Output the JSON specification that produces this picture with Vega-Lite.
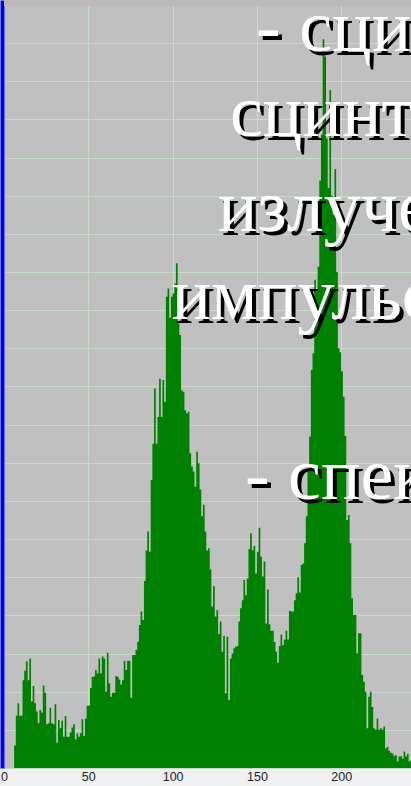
{
  "$schema": "https://vega.github.io/schema/vega-lite/v6.json",
  "width": 407,
  "height": 768,
  "autosize": {"type": "none"},
  "padding": {"left": 4, "top": 0, "right": 0, "bottom": 18},
  "background": "#f0f0f0",
  "config": {
    "view": {"fill": "#c0c0c0", "stroke": null},
    "axis": {"gridColor": "#c9dcc9", "gridWidth": 1, "gridOpacity": 1}
  },
  "data": {"values": [
    {"ch":0,"n":0},{"ch":1,"n":0},{"ch":2,"n":0},{"ch":3,"n":0},{"ch":4,"n":0},{"ch":5,"n":0},{"ch":6,"n":0.59},{"ch":7,"n":1.37},{"ch":8,"n":1.7},{"ch":9,"n":1.37},
    {"ch":10,"n":1.37},{"ch":11,"n":2.3},{"ch":12,"n":2.55},{"ch":13,"n":2.8},{"ch":14,"n":2.3},{"ch":15,"n":2.87},{"ch":16,"n":1.74},{"ch":17,"n":2.15},{"ch":18,"n":1.7},{"ch":19,"n":1.48},
    {"ch":20,"n":1.17},{"ch":21,"n":1.52},{"ch":22,"n":1.45},{"ch":23,"n":2.16},{"ch":24,"n":1.97},{"ch":25,"n":1.15},{"ch":26,"n":1.17},{"ch":27,"n":1.58},{"ch":28,"n":1.17},{"ch":29,"n":1.15},
    {"ch":30,"n":1.67},{"ch":31,"n":0.66},{"ch":32,"n":1.26},{"ch":33,"n":1.04},{"ch":34,"n":1.24},{"ch":35,"n":0.82},{"ch":36,"n":1.36},{"ch":37,"n":0.82},{"ch":38,"n":0.82},{"ch":39,"n":0.93},
    {"ch":40,"n":1.06},{"ch":41,"n":1.15},{"ch":42,"n":0.75},{"ch":43,"n":0.91},{"ch":44,"n":0.82},{"ch":45,"n":0.91},{"ch":46,"n":1.28},{"ch":47,"n":0.84},{"ch":48,"n":1.3},{"ch":49,"n":1.63},
    {"ch":50,"n":1.63},{"ch":51,"n":2.1},{"ch":52,"n":2.39},{"ch":53,"n":2.4},{"ch":54,"n":2.57},{"ch":55,"n":2.48},{"ch":56,"n":2.87},{"ch":57,"n":2.48},{"ch":58,"n":2.92},{"ch":59,"n":2.87},
    {"ch":60,"n":2.0},{"ch":61,"n":3.02},{"ch":62,"n":2.22},{"ch":63,"n":1.87},{"ch":64,"n":1.97},{"ch":65,"n":1.97},{"ch":66,"n":2.41},{"ch":67,"n":2.39},{"ch":68,"n":2.32},{"ch":69,"n":2.18},
    {"ch":70,"n":2.3},{"ch":71,"n":2.81},{"ch":72,"n":2.57},{"ch":73,"n":2.81},{"ch":74,"n":2.81},{"ch":75,"n":1.84},{"ch":76,"n":2.96},{"ch":77,"n":2.96},{"ch":78,"n":3.09},{"ch":79,"n":3.31},
    {"ch":80,"n":3.75},{"ch":81,"n":4.1},{"ch":82,"n":3.88},{"ch":83,"n":4.9},{"ch":84,"n":5.7},{"ch":85,"n":6.2},{"ch":86,"n":5.67},{"ch":87,"n":7.55},{"ch":88,"n":8.5},{"ch":89,"n":9.95},
    {"ch":90,"n":8.5},{"ch":91,"n":9.2},{"ch":92,"n":10.2},{"ch":93,"n":9.2},{"ch":94,"n":10.17},{"ch":95,"n":9.6},{"ch":96,"n":12.35},{"ch":97,"n":12.57},{"ch":98,"n":11.8},{"ch":99,"n":12.35},
    {"ch":100,"n":12.44},{"ch":101,"n":12.7},{"ch":102,"n":13.23},{"ch":103,"n":11.66},{"ch":104,"n":11.35},{"ch":105,"n":9.9},{"ch":106,"n":9.86},{"ch":107,"n":9.38},{"ch":108,"n":9.3},{"ch":109,"n":9.34},
    {"ch":110,"n":8.25},{"ch":111,"n":7.9},{"ch":112,"n":7.77},{"ch":113,"n":7.37},{"ch":114,"n":8.29},{"ch":115,"n":7.99},{"ch":116,"n":7.3},{"ch":117,"n":6.6},{"ch":118,"n":6.9},{"ch":119,"n":6.2},
    {"ch":120,"n":5.7},{"ch":121,"n":5.76},{"ch":122,"n":5.2},{"ch":123,"n":4.23},{"ch":124,"n":4.77},{"ch":125,"n":3.97},{"ch":126,"n":4.14},{"ch":127,"n":3.51},{"ch":128,"n":3.84},{"ch":129,"n":3.05},
    {"ch":130,"n":3.46},{"ch":131,"n":1.96},{"ch":132,"n":3.44},{"ch":133,"n":1.78},{"ch":134,"n":2.87},{"ch":135,"n":3.0},{"ch":136,"n":3.14},{"ch":137,"n":3.18},{"ch":138,"n":3.2},{"ch":139,"n":3.84},
    {"ch":140,"n":4.19},{"ch":141,"n":4.4},{"ch":142,"n":4.93},{"ch":143,"n":4.53},{"ch":144,"n":4.97},{"ch":145,"n":5.74},{"ch":146,"n":6.15},{"ch":147,"n":5.71},{"ch":148,"n":5.82},{"ch":149,"n":5.1},
    {"ch":150,"n":5.67},{"ch":151,"n":6.3},{"ch":152,"n":5.54},{"ch":153,"n":5.02},{"ch":154,"n":5.41},{"ch":155,"n":3.79},{"ch":156,"n":4.68},{"ch":157,"n":3.77},{"ch":158,"n":3.6},{"ch":159,"n":3.6},
    {"ch":160,"n":3.3},{"ch":161,"n":3.05},{"ch":162,"n":2.76},{"ch":163,"n":3.2},{"ch":164,"n":3.5},{"ch":165,"n":3.22},{"ch":166,"n":3.36},{"ch":167,"n":3.6},{"ch":168,"n":3.37},{"ch":169,"n":4.12},
    {"ch":170,"n":4.1},{"ch":171,"n":4.1},{"ch":172,"n":4.4},{"ch":173,"n":4.58},{"ch":174,"n":5.0},{"ch":175,"n":4.6},{"ch":176,"n":5.32},{"ch":177,"n":5.36},{"ch":178,"n":5.89},{"ch":179,"n":6.6},
    {"ch":180,"n":7.81},{"ch":181,"n":8.69},{"ch":182,"n":10.43},{"ch":183,"n":10.87},{"ch":184,"n":12.8},{"ch":185,"n":12.5},{"ch":186,"n":13.14},{"ch":187,"n":15.4},{"ch":188,"n":16.6},{"ch":189,"n":19.1},
    {"ch":190,"n":18.65},{"ch":191,"n":16.5},{"ch":192,"n":15.2},{"ch":193,"n":17.77},{"ch":194,"n":15.0},{"ch":195,"n":14.5},{"ch":196,"n":15.7},{"ch":197,"n":13.0},{"ch":198,"n":11.0},{"ch":199,"n":10.9},
    {"ch":200,"n":10.4},{"ch":201,"n":9.73},{"ch":202,"n":8.7},{"ch":203,"n":6.5},{"ch":204,"n":6.63},{"ch":205,"n":5.89},{"ch":206,"n":4.45},{"ch":207,"n":4.01},{"ch":208,"n":4.01},{"ch":209,"n":3.0},
    {"ch":210,"n":3.53},{"ch":211,"n":3.53},{"ch":212,"n":2.44},{"ch":213,"n":2.26},{"ch":214,"n":2.0},{"ch":215,"n":1.04},{"ch":216,"n":1.87},{"ch":217,"n":2.0},{"ch":218,"n":1.6},{"ch":219,"n":1.04},
    {"ch":220,"n":1.0},{"ch":221,"n":1.3},{"ch":222,"n":1.0},{"ch":223,"n":1.04},{"ch":224,"n":1.0},{"ch":225,"n":1.09},{"ch":226,"n":0.52},{"ch":227,"n":0.56},{"ch":228,"n":0.45},{"ch":229,"n":0.4},
    {"ch":230,"n":0.38},{"ch":231,"n":0.31},{"ch":232,"n":0.34},{"ch":233,"n":0.17},{"ch":234,"n":0.3},{"ch":235,"n":0.31},{"ch":236,"n":0.25},{"ch":237,"n":0.43},{"ch":238,"n":0.3},{"ch":239,"n":0.37},
    {"ch":240,"n":0.17},{"ch":241,"n":0.2},{"ch":242,"n":0.2}
  ]},
  "layer": [
    {
      "mark": {"type": "area", "interpolate": "step-after", "color": "#008000", "clip": true},
      "encoding": {
        "x": {"field": "ch", "type": "quantitative", "title": null,
          "scale": {"domain": [0, 241.4], "nice": false, "zero": false},
          "axis": {"values": [0, 50, 100, 150, 200], "tickCount": 30, "grid": true, "ticks": false, "domain": false,
            "labelFont": "Liberation Sans", "labelFontSize": 12.5, "labelColor": "#222222", "labelPadding": 2, "labelFlush": false}},
        "y": {"field": "n", "type": "quantitative", "title": null,
          "scale": {"domain": [0, 20.13], "nice": false},
          "axis": {"values": [0,1,2,3,4,5,6,7,8,9,10,11,12,13,14,15,16,17,18,19,20], "tickCount": 40, "grid": true, "ticks": false, "labels": false,
            "domain": true, "domainColor": "#0000ff", "domainWidth": 4, "offset": 2}}
      }
    },
    {
      "data": {"values": [{}]},
      "mark": {"type": "rect", "color": "#bdb9b9", "clip": true},
      "encoding": {"y": {"datum": 19.97, "type": "quantitative"}, "y2": {"datum": 20.3}}
    },
    {
      "data": {"values": [{"t": "- сцинтилляционный"}]},
      "encoding": {"x": {"datum": 149.5, "type": "quantitative"}, "y": {"datum": 18.8, "type": "quantitative"}, "text": {"field": "t"}},
      "layer": [
        {"mark": {"type": "text", "font": "Liberation Serif", "fontSize": 74, "align": "left", "baseline": "alphabetic", "color": "#000000", "dx": 4, "dy": 4}},
        {"mark": {"type": "text", "font": "Liberation Serif", "fontSize": 74, "align": "left", "baseline": "alphabetic", "color": "#ffffff"}}
      ]
    },
    {
      "data": {"values": [{"t": "сцинтилляторов"}]},
      "encoding": {"x": {"datum": 134.0, "type": "quantitative"}, "y": {"datum": 16.56, "type": "quantitative"}, "text": {"field": "t"}},
      "layer": [
        {"mark": {"type": "text", "font": "Liberation Serif", "fontSize": 74, "align": "left", "baseline": "alphabetic", "color": "#000000", "dx": 4, "dy": 4}},
        {"mark": {"type": "text", "font": "Liberation Serif", "fontSize": 74, "align": "left", "baseline": "alphabetic", "color": "#ffffff"}}
      ]
    },
    {
      "data": {"values": [{"t": "излучение"}]},
      "encoding": {"x": {"datum": 126.9, "type": "quantitative"}, "y": {"datum": 14.08, "type": "quantitative"}, "text": {"field": "t"}},
      "layer": [
        {"mark": {"type": "text", "font": "Liberation Serif", "fontSize": 74, "align": "left", "baseline": "alphabetic", "color": "#000000", "dx": 4, "dy": 4}},
        {"mark": {"type": "text", "font": "Liberation Serif", "fontSize": 74, "align": "left", "baseline": "alphabetic", "color": "#ffffff"}}
      ]
    },
    {
      "data": {"values": [{"t": "импульсов"}]},
      "encoding": {"x": {"datum": 99.3, "type": "quantitative"}, "y": {"datum": 11.76, "type": "quantitative"}, "text": {"field": "t"}},
      "layer": [
        {"mark": {"type": "text", "font": "Liberation Serif", "fontSize": 74, "align": "left", "baseline": "alphabetic", "color": "#000000", "dx": 4, "dy": 4}},
        {"mark": {"type": "text", "font": "Liberation Serif", "fontSize": 74, "align": "left", "baseline": "alphabetic", "color": "#ffffff"}}
      ]
    },
    {
      "data": {"values": [{"t": "- спектрометр"}]},
      "encoding": {"x": {"datum": 142.9, "type": "quantitative"}, "y": {"datum": 7.05, "type": "quantitative"}, "text": {"field": "t"}},
      "layer": [
        {"mark": {"type": "text", "font": "Liberation Serif", "fontSize": 74, "align": "left", "baseline": "alphabetic", "color": "#000000", "dx": 4, "dy": 4}},
        {"mark": {"type": "text", "font": "Liberation Serif", "fontSize": 74, "align": "left", "baseline": "alphabetic", "color": "#ffffff"}}
      ]
    }
  ]
}
